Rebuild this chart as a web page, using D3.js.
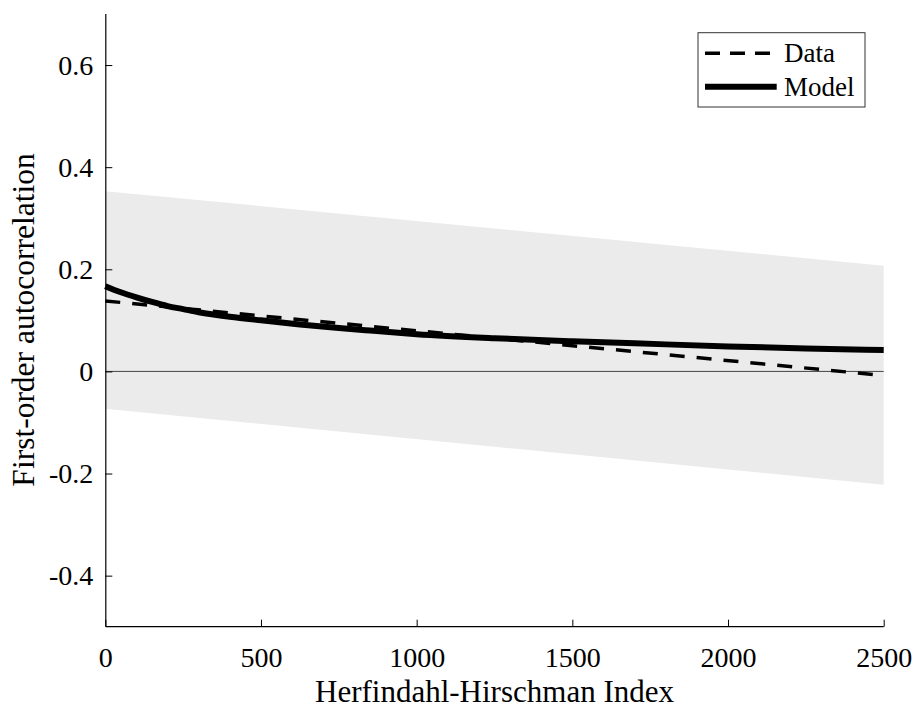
<!DOCTYPE html>
<html>
<head>
<meta charset="utf-8">
<script src="https://cdn.jsdelivr.net/npm/d3@7"></script>
<style>
  body { margin: 0; background: #fff; }
  text { font-family: "Liberation Serif", "Times New Roman", serif; fill: #000; }
</style>
</head>
<body>
<svg id="chart" width="917" height="709"></svg>
<script>
// values
var hhi = [0, 50, 100, 150, 200, 250, 300, 400, 500, 625, 750, 850, 1000, 1250, 1500, 1700, 2000, 2250, 2500];
var model = [0.167, 0.155, 0.145, 0.136, 0.128, 0.122, 0.116, 0.107, 0.100, 0.092, 0.085, 0.080, 0.073, 0.065, 0.059, 0.055, 0.049, 0.045, 0.042];

var dataX = [0, 2500];
var dataY = [0.138, -0.008];

var bandX = [0, 2500];
var bandUpper = [0.353, 0.207];
var bandLower = [-0.073, -0.222];

var xTicks = [0, 500, 1000, 1500, 2000, 2500];
var yTicks = [-0.4, -0.2, 0, 0.2, 0.4, 0.6];

var legendLabels = ["Data", "Model"];

// set the dimensions and margins of the graph
var margin = {left: 105.3, top: 14, right: 917 - 883.7, bottom: 709 - 626.7}
var width = 917 - margin.left - margin.right
var height = 709 - margin.top - margin.bottom

var svg = d3.select("#chart")
var g = svg.append("g")
  .attr("transform", "translate(" + margin.left + "," + margin.top + ")");

var x = d3.scaleLinear().domain([0, 2500]).range([0, width]);
var y = d3.scaleLinear().domain([-0.5, 0.7]).range([height, 0]);

// grey confidence band
var band = bandX.map(function(d, i) { return {x: d, lo: bandLower[i], hi: bandUpper[i]}; });
g.append("path")
  .datum(band)
  .attr("fill", "#ebebeb")
  .attr("d", d3.area()
    .x(function(d) { return x(d.x); })
    .y0(function(d) { return y(d.lo); })
    .y1(function(d) { return y(d.hi); }));

// zero line
g.append("line")
  .attr("x1", x(0)).attr("x2", x(2500))
  .attr("y1", y(0)).attr("y2", y(0))
  .attr("stroke", "#444")
  .attr("stroke-width", 1);

// data (dashed)
var dataPts = dataX.map(function(d, i) { return [d, dataY[i]]; });
g.append("path")
  .datum(dataPts)
  .attr("fill", "none")
  .attr("stroke", "#000")
  .attr("stroke-width", 3.5)
  .attr("stroke-dasharray", "15,12")
  .attr("d", d3.line()
    .x(function(d) { return x(d[0]); })
    .y(function(d) { return y(d[1]); }));

// model (solid, thick)
var modelPts = hhi.map(function(d, i) { return [d, model[i]]; });
g.append("path")
  .datum(modelPts)
  .attr("fill", "none")
  .attr("stroke", "#000")
  .attr("stroke-width", 6)
  .attr("d", d3.line()
    .curve(d3.curveMonotoneX)
    .x(function(d) { return x(d[0]); })
    .y(function(d) { return y(d[1]); }));

// axes
var xAxis = g.append("g")
  .attr("transform", "translate(0," + height + ")")
  .call(d3.axisBottom(x).tickValues(xTicks).tickSize(-7).tickPadding(20)
    .tickFormat(function(d) { return String(d); }));

var yAxis = g.append("g")
  .call(d3.axisLeft(y).tickValues(yTicks).tickSize(-7).tickPadding(12)
    .tickFormat(function(d) { return d === 0 ? "0" : d.toFixed(1); }));

[xAxis, yAxis].forEach(function(ax) {
  ax.select(".domain").attr("stroke", "#000").attr("stroke-width", 1.2);
  ax.selectAll(".tick line").attr("stroke", "#000").attr("stroke-width", 1);
  ax.selectAll(".tick text")
    .attr("fill", "#000")
    .style("font-family", "Liberation Serif")
    .style("font-size", "28px");
});
// remove the outer tick stubs so only the L-shaped lines remain
xAxis.select(".domain").attr("d", "M0.5,0H" + width);
yAxis.select(".domain").attr("d", "M0.5,0V" + height);

// axis titles
svg.append("text")
  .attr("x", margin.left + width / 2)
  .attr("y", 701.5)
  .attr("text-anchor", "middle")
  .style("font-size", "31px")
  .text("Herfindahl-Hirschman Index");

svg.append("text")
  .attr("transform", "translate(33.5,320) rotate(-90)")
  .attr("text-anchor", "middle")
  .style("font-size", "31.5px")
  .text("First-order autocorrelation");

// legend
var legend = svg.append("g").attr("transform", "translate(698,32.7)");
legend.append("rect")
  .attr("width", 167).attr("height", 74.3)
  .attr("fill", "#fff")
  .attr("stroke", "#333")
  .attr("stroke-width", 1);

var rows = legend.selectAll(".legend")
  .data(legendLabels)
  .enter()
  .append("g")
  .attr("class", "legend")
  .attr("transform", function(d, i) { return "translate(0," + (20.6 + i * 33.4) + ")"; });

rows.append("line")
  .attr("x1", 7).attr("x2", 78.7)
  .attr("stroke", "#000")
  .attr("stroke-width", function(d, i) { return i === 0 ? 3.5 : 6; })
  .attr("stroke-dasharray", function(d, i) { return i === 0 ? "15,10" : null; });

rows.append("text")
  .attr("x", 86)
  .attr("dy", "0.33em")
  .style("font-size", "27px")
  .text(function(d) { return d; });
</script>
</body>
</html>
